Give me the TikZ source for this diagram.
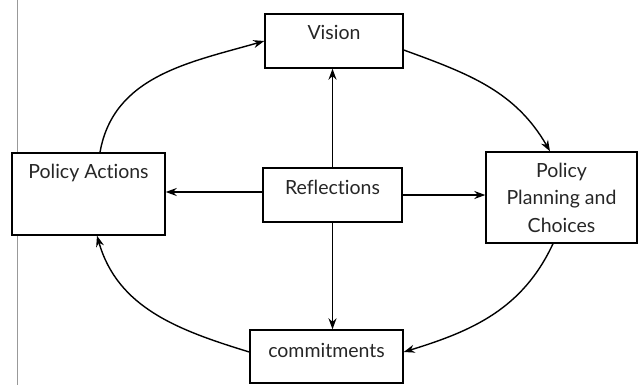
\documentclass[tikz,border=0pt]{standalone}
\usepackage{fontspec}
\setmainfont{Lato}[Ligatures=NoCommon]
\usetikzlibrary{arrows.meta, positioning}

\begin{document}
\begin{tikzpicture}[
    x=1pt, y=-1pt,
    box/.style={rectangle, draw, line width=1.4pt, fill=white, inner xsep=0pt,
                inner ysep=0pt, align=center, text=black!85,
                font=\fontsize{19.5}{27.5}\selectfont},
    arrow/.style={-{Stealth[length=11pt, width=8pt]}, line width=1.4pt}
]
\useasboundingbox (0,0) rectangle (639,385);
\draw[black!40, line width=0.7pt] (17,0) -- (17,385);

\node[box, minimum width=138pt, text height=26pt, text depth=28pt] (vision) at (334,41) {Vision};
\node[box, minimum width=153pt, text height=25pt, text depth=57pt] (actions) at (88.5,194) {Policy Actions};
\node[box, minimum width=139pt, text height=26pt, text depth=28pt] (reflect) at (332.5,195) {Reflections};
\node[box, minimum width=151pt, minimum height=91pt] (planning) at (561.5,197.5) {Policy\\Planning and\\Choices};
\node[box, minimum width=153pt, text height=27pt, text depth=26pt] (commit) at (326.5,356.5) {commitments};

% outer cycle
\draw[arrow] ([xshift=11.5pt]actions.north) to[out=80, in=196] (vision.west);
\draw[arrow] ([yshift=-9pt]vision.east) to[out=-20, in=120] ([xshift=-11.5pt]planning.north);
\draw[arrow] ([xshift=-8.5pt]planning.south) to[out=245, in=17] ([yshift=4.5pt]commit.east);
\draw[arrow] ([yshift=4.5pt]commit.west) to[out=163, in=-74] ([xshift=8.5pt]actions.south);

% from reflections
\draw[arrow] (reflect.north) -- (reflect.north |- vision.south);
\draw[arrow] ([yshift=3pt]reflect.west) -- ([yshift=3pt]reflect.west -| actions.east);
\draw[arrow] (reflect.east) -- (reflect.east -| planning.west);
\draw[arrow] (reflect.south) -- (reflect.south |- commit.north);
\end{tikzpicture}
\end{document}
